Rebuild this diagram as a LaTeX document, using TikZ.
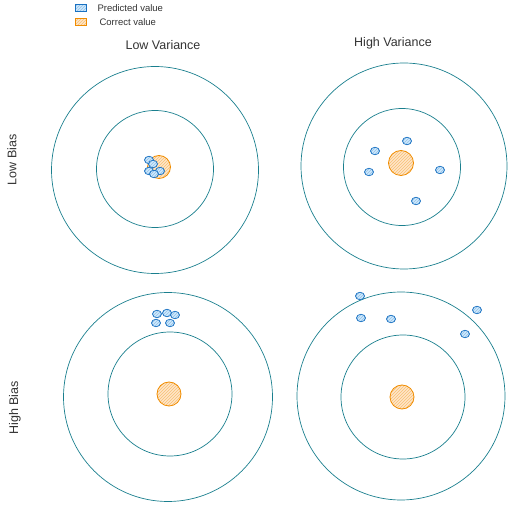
\documentclass[tikz,border=0pt]{standalone}
\usepackage{fontspec}
\setmainfont{Liberation Sans}
\usetikzlibrary{patterns,shapes.geometric}
\definecolor{ringc}{HTML}{1A7F8E}
\definecolor{predc}{HTML}{1971C2}
\definecolor{predf}{HTML}{A5D8FF}
\definecolor{corrc}{HTML}{F08C00}
\definecolor{corrf}{HTML}{FFC078}
\tikzset{
  ring/.style={circle, draw=ringc, line width=0.7pt, inner sep=0pt},
  target/.style={circle, draw=corrc, line width=0.8pt, inner sep=0pt, minimum size=24pt,
    preaction={fill=corrf!40}, pattern=north east lines, pattern color=corrc!55},
  pred/.style={ellipse, draw=predc, line width=0.7pt, inner sep=0pt, minimum width=9pt, minimum height=7.5pt,
    preaction={fill=predf!55}, pattern=north east lines, pattern color=predc!45},
  legbox/.style={rectangle, line width=0.7pt, inner sep=0pt, minimum width=11pt, minimum height=7pt},
  lab/.style={font=\fontsize{9.5}{11}\selectfont, text=black!80},
  head/.style={font=\fontsize{12.5}{14}\selectfont, text=black!80},
}
\begin{document}
\begin{tikzpicture}[x=1pt,y=-1pt]
\useasboundingbox (0,0) rectangle (512,505);
% legend
\node[legbox, draw=predc, preaction={fill=predf!55}, pattern=north east lines, pattern color=predc!45] (legp) at (81,8) {};
\node[lab, anchor=west] (legpt) at (94,8.5) {Predicted value};
\node[legbox, draw=corrc, preaction={fill=corrf!40}, pattern=north east lines, pattern color=corrc!55] (legc) at (81,22) {};
\node[lab, anchor=west] (legct) at (96,22.5) {Correct value};
% headers
\node[head] (hlv) at (163,45) {Low Variance};
\node[head] (hhv) at (393,43) {High Variance};
\node[head, rotate=90] (hlb) at (12,160) {Low Bias};
\node[head, rotate=90] (hhb) at (15,408) {High Bias};
% top-left
\node[ring, minimum size=207pt] (tlo) at (155,170) {};
\node[ring, minimum size=117pt] (tli) at (155,169) {};
\node[target, minimum size=23pt] (tlt) at (159,167) {};
\node[pred] (tl1) at (149,160) {};
\node[pred] (tl2) at (153,164) {};
\node[pred] (tl3) at (149,171) {};
\node[pred] (tl4) at (160,171) {};
\node[pred] (tl5) at (154,174) {};
% top-right
\node[ring, minimum size=206pt] (tro) at (404,166) {};
\node[ring, minimum size=117pt] (tri) at (402,167) {};
\node[target, minimum size=25pt] (trt) at (401,163) {};
\node[pred] (tr1) at (375,151) {};
\node[pred] (tr2) at (407,141) {};
\node[pred] (tr3) at (369,172) {};
\node[pred] (tr4) at (440,170) {};
\node[pred] (tr5) at (416,201) {};
% bottom-left
\node[ring, minimum size=209pt] (blo) at (168,397) {};
\node[ring, minimum size=124pt] (bli) at (170,394) {};
\node[target] (blt) at (169,394) {};
\node[pred] (bl1) at (157,314) {};
\node[pred] (bl2) at (167,313) {};
\node[pred] (bl3) at (175,315) {};
\node[pred] (bl4) at (156,323) {};
\node[pred] (bl5) at (170,323) {};
% bottom-right
\node[ring, minimum size=208pt] (bro) at (401,396) {};
\node[ring, minimum size=124pt] (bri) at (403,397) {};
\node[target] (brt) at (402,397) {};
\node[pred] (br1) at (360,296) {};
\node[pred] (br2) at (361,318) {};
\node[pred] (br3) at (391,319) {};
\node[pred] (br4) at (477,310) {};
\node[pred] (br5) at (465,334) {};
\end{tikzpicture}
\end{document}
